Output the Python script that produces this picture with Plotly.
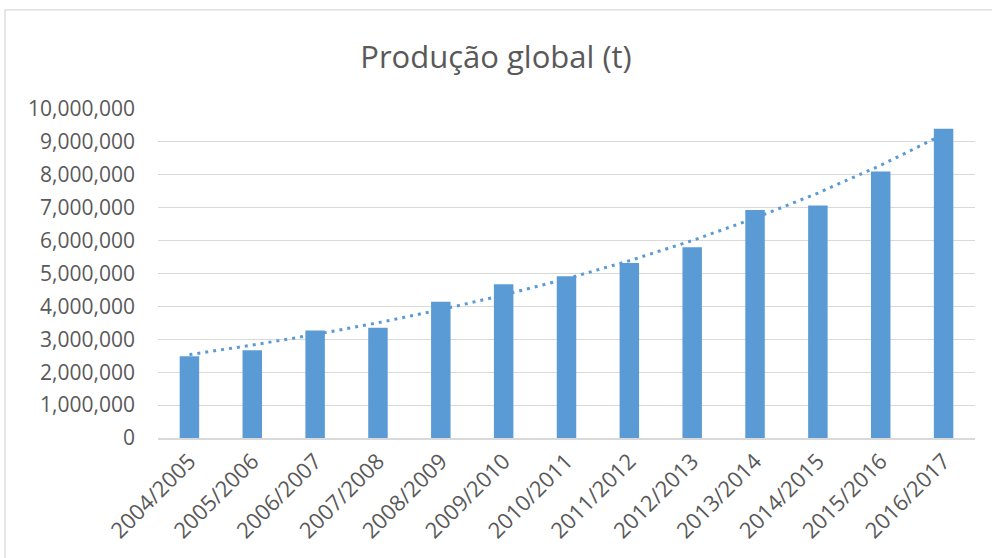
import numpy as np
import plotly.graph_objects as go

categories = ["2004/2005", "2005/2006", "2006/2007", "2007/2008", "2008/2009",
              "2009/2010", "2010/2011", "2011/2012", "2012/2013", "2013/2014",
              "2014/2015", "2015/2016", "2016/2017"]
production = [2485000, 2670000, 3270000, 3350000, 4140000, 4670000, 4920000,
              5320000, 5800000, 6930000, 7070000, 8100000, 9400000]
y_ticks = [0, 1000000, 2000000, 3000000, 4000000, 5000000, 6000000,
           7000000, 8000000, 9000000, 10000000]

# Exponential trendline (as Excel computes it: linear fit on ln(y))
idx = np.arange(1, len(production) + 1)
b, a = np.polyfit(idx, np.log(production), 1)
trend = np.exp(a + b * idx)

BLUE = "#5b9bd5"
TXT = "#595959"
GRID = "#d9d9d9"
FONT = "Open Sans, Liberation Sans, sans-serif"

fig = go.Figure()
fig.add_trace(go.Bar(x=categories, y=production, marker=dict(color=BLUE, line=dict(width=0)),
                     showlegend=False))
fig.add_trace(go.Scatter(x=categories, y=trend, mode="lines",
                         line=dict(color=BLUE, width=3, dash="3px,5px"),
                         showlegend=False))

fig.update_layout(
    width=992, height=558,
    margin=dict(l=158, r=17, t=109, b=120),
    paper_bgcolor="white", plot_bgcolor="white",
    bargap=0.69,
    title=dict(text="Produção global (t)", x=0.5, xanchor="center",
               y=1 - 57 / 558, yanchor="middle",
               font=dict(family=FONT, size=31, color=TXT)),
    font=dict(family=FONT, color=TXT),
    xaxis=dict(type="category", tickangle=-45, showgrid=False,
               showline=True, linecolor=GRID, linewidth=1.5,
               tickfont=dict(size=22, color=TXT), ticks="", ticklen=0),
    yaxis=dict(range=[0, 10000000], tickvals=y_ticks, tickformat=",d",
               showgrid=True, gridcolor=GRID, gridwidth=1.3,
               zeroline=False, showline=False, ticks="",
               ticklabelstandoff=22,
               tickfont=dict(size=21, color=TXT)),
    shapes=[dict(type="rect", xref="paper", yref="paper",
                 x0=(5 - 158) / 817, x1=(1010 - 158) / 817,
                 y0=-0.5, y1=(437.7 - 10) / 328.7,
                 line=dict(color=GRID, width=1.3), fillcolor="rgba(0,0,0,0)",
                 layer="below")],
)

fig.write_html("out.html", config={"displayModeBar": False},
               post_script="document.body.style.margin='0px';")
